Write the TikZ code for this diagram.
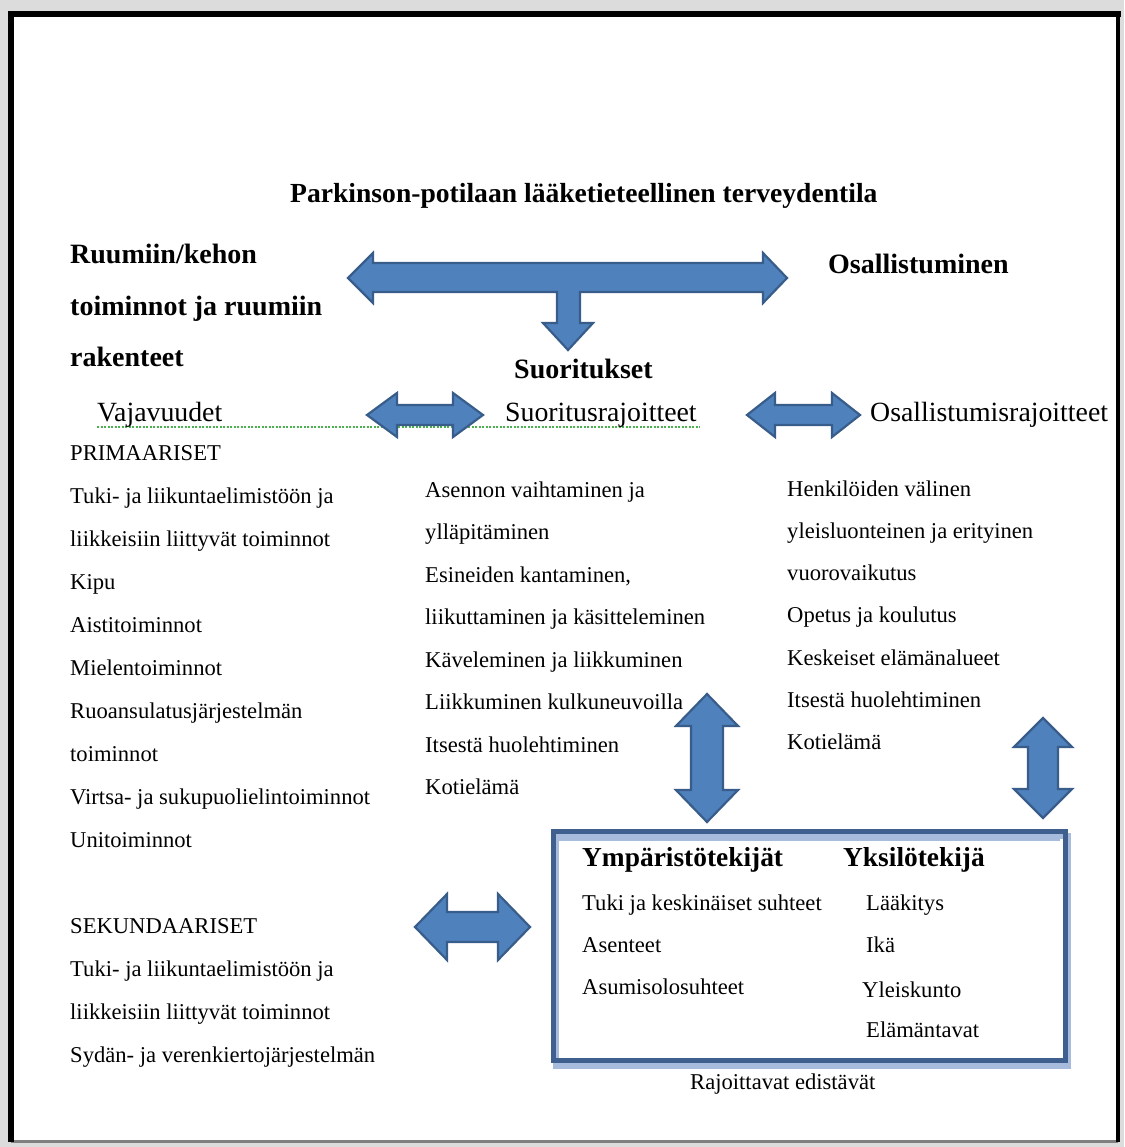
\documentclass[tikz,border=0pt]{standalone}
\usepackage{fontspec}
\setmainfont{Liberation Serif}
\definecolor{arrfill}{HTML}{4F81BD}
\definecolor{arrline}{HTML}{385D8A}
\definecolor{boxline}{HTML}{3F5F8F}
\definecolor{boxshadow}{HTML}{A7BCDD}
\definecolor{greenul}{HTML}{4CAF50}
\definecolor{bggray}{HTML}{DCDCDC}
\newcommand\hdarr[6]{%
  \draw[blockarr] (#1,#3) -- (#1+#6,#3-#5) -- (#1+#6,#3-#4) -- (#2-#6,#3-#4) -- (#2-#6,#3-#5) -- (#2,#3)
   -- (#2-#6,#3+#5) -- (#2-#6,#3+#4) -- (#1+#6,#3+#4) -- (#1+#6,#3+#5) -- cycle;}
\newcommand\vdarr[6]{%
  \draw[blockarr] (#3,#1) -- (#3+#5,#1+#6) -- (#3+#4,#1+#6) -- (#3+#4,#2-#6) -- (#3+#5,#2-#6) -- (#3,#2)
   -- (#3-#5,#2-#6) -- (#3-#4,#2-#6) -- (#3-#4,#1+#6) -- (#3-#5,#1+#6) -- cycle;}
\begin{document}
\begin{tikzpicture}[x=1pt,y=-1pt,
  blockarr/.style={fill=arrfill,draw=arrline,line width=2.2pt,line join=miter},
  txt/.style={anchor=base west,inner sep=0pt,font=\fontsize{22.6}{26}\selectfont},
  sub/.style={anchor=base west,inner sep=0pt,font=\fontsize{27.8}{32}\selectfont},
  hdr/.style={anchor=base west,inner sep=0pt,font=\fontsize{28}{32}\selectfont\bfseries},
  boxhdr/.style={anchor=base west,inner sep=0pt,font=\fontsize{27.4}{32}\selectfont\bfseries}]
\useasboundingbox (0,0) rectangle (1124,1147);
% background and frame
\fill[bggray] (0,0) rectangle (1124,1147);
\fill[white] (12,16) rectangle (1118,1140);
\draw[gray,line width=3pt] (11,1141) -- (1118,1141);
\draw[black,line width=6pt] (8,14) -- (1121,14);
\draw[black,line width=6pt] (11,12) -- (11,1142);
\draw[black,line width=4pt] (1118,12) -- (1118,1142);
% green underline
\draw[greenul,line width=1.2pt,dash pattern=on 2pt off 1.5pt] (97,427) -- (700,427);
% T arrow
\draw[blockarr] (348,278) -- (373,253) -- (373,263) -- (763,263) -- (763,253) -- (787,278)
  -- (763,303) -- (763,292) -- (580,292) -- (580,323) -- (593,323) -- (568,350) -- (543,323)
  -- (557,323) -- (557,292) -- (373,292) -- (373,303) -- cycle;
% small arrows
\hdarr{367}{483}{415}{10}{22}{30}
\hdarr{747}{860}{415}{10}{22}{28}
\hdarr{415}{530}{927}{15}{33}{32}
\vdarr{694}{822}{707}{16}{31}{32}
\vdarr{718}{818}{1043}{15}{29}{29}
% box
\draw[boxshadow,line width=6pt] (556,836) rectangle (1068,1066);
\draw[boxshadow,line width=3pt] (558,839) -- (1060,839);
\draw[boxline,line width=5pt] (553,831) rectangle (1065,1060);
% headings
\node[hdr] (title) at (290,203) {\fontsize{27.6}{30}\selectfont Parkinson-potilaan lääketieteellinen terveydentila};
\node[hdr] (ruu1) at (70,264) {Ruumiin/kehon};
\node[hdr] (ruu2) at (70,315) {toiminnot ja ruumiin};
\node[hdr] (ruu3) at (70,366) {rakenteet};
\node[hdr] (osal) at (828,273) {Osallistuminen};
\node[hdr] (suor) at (514,378) {Suoritukset};
\node[sub] (vaja) at (97,421) {Vajavuudet};
\node[sub] (suorraj) at (505,421) {Suoritusrajoitteet};
\node[sub] (osalraj) at (870,421) {Osallistumisrajoitteet};
% left column
\foreach \t [count=\i] in {PRIMAARISET, Tuki- ja liikuntaelimistöön ja, liikkeisiin liittyvät toiminnot,
  Kipu, Aistitoiminnot, Mielentoiminnot, Ruoansulatusjärjestelmän, toiminnot,
  Virtsa- ja sukupuolielintoiminnot, Unitoiminnot}
  \node[txt] (p\i) at (70,{460+(\i-1)*43}) {\t};
\foreach \t [count=\i] in {SEKUNDAARISET, Tuki- ja liikuntaelimistöön ja, liikkeisiin liittyvät toiminnot,
  Sydän- ja verenkiertojärjestelmän}
  \node[txt] (s\i) at (70,{933+(\i-1)*43}) {\t};
% middle column
\foreach \t [count=\i] in {Asennon vaihtaminen ja, ylläpitäminen, {Esineiden kantaminen,},
  liikuttaminen ja käsitteleminen, Käveleminen ja liikkuminen, Liikkuminen kulkuneuvoilla,
  Itsestä huolehtiminen, Kotielämä}
  \node[txt] (m\i) at (425,{497+(\i-1)*42.5}) {\t};
% right column
\foreach \t [count=\i] in {Henkilöiden välinen, yleisluonteinen ja erityinen, vuorovaikutus,
  Opetus ja koulutus, Keskeiset elämänalueet, Itsestä huolehtiminen, Kotielämä}
  \node[txt] (r\i) at (787,{496+(\i-1)*42.3}) {\t};
% box content
\node[boxhdr] (ymp) at (582,866) {Ympäristötekijät};
\node[boxhdr] (yks) at (843,866) {Yksilötekijä};
\node[txt] (y1) at (582,910) {Tuki ja keskinäiset suhteet};
\node[txt] (y2) at (582,952) {Asenteet};
\node[txt] (y3) at (582,994) {Asumisolosuhteet};
\node[txt] (k1) at (866,910) {Lääkitys};
\node[txt] (k2) at (866,952) {Ikä};
\node[txt] (k3) at (862,997) {Yleiskunto};
\node[txt] (k4) at (866,1037) {Elämäntavat};
\node[txt] (raj) at (690,1089) {Rajoittavat edistävät};
\end{tikzpicture}
\end{document}
